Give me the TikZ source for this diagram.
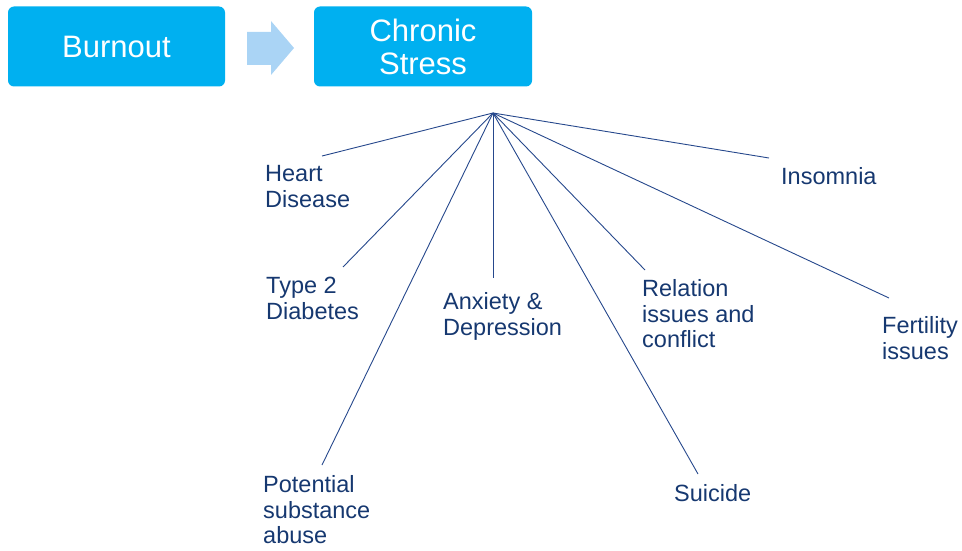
\documentclass[tikz,border=0pt]{standalone}
\usepackage{fontspec}
\setmainfont{Liberation Sans}
\definecolor{boxcyan}{RGB}{0,176,240}
\definecolor{arrowblue}{RGB}{170,212,245}
\definecolor{txtblue}{RGB}{22,56,112}
\definecolor{lineblue}{RGB}{38,72,140}
\begin{document}
\begin{tikzpicture}[x=1pt,y=-1pt,
  box/.style={fill=boxcyan,draw=none,rounded corners=6pt,text=white,
    font=\fontsize{31}{33}\selectfont,align=center,minimum height=80pt,inner sep=0pt},
  lbl/.style={anchor=north west,inner sep=0pt,align=left,text=txtblue,
    font=\fontsize{23.5}{25.8}\selectfont},
  conn/.style={draw=lineblue,line width=0.9pt}]
\useasboundingbox (0,0) rectangle (962,551);
\node[box,minimum width=217pt] (burnout) at (116.5,46.5) {Burnout};
\node[box,minimum width=218pt] (chronic) at (423,46.5) {Chronic\\Stress};
\fill[arrowblue] (247,32) -- (271,32) -- (271,21) -- (294,48) -- (271,75) -- (271,65) -- (247,65) -- cycle;
\coordinate (hub) at (493,113);
\node[lbl] (heart) at (265,165) {Heart\\Disease};
\node[lbl] (type2) at (266,277) {Type 2\\Diabetes};
\node[lbl] (anx) at (443,292) {Anxiety \&\\Depression};
\node[lbl] (rel) at (642,279) {Relation\\issues and\\conflict};
\node[lbl] (fert) at (882,316) {Fertility\\issues};
\node[lbl] (insom) at (781,167) {Insomnia};
\node[lbl] (pot) at (263,475) {Potential\\substance\\abuse};
\node[lbl] (sui) at (674,484) {Suicide};
\coordinate (eheart) at (322,156);
\coordinate (etype) at (343,267);
\coordinate (epot) at (322,465);
\coordinate (eanx) at (493,278);
\coordinate (erel) at (645,270);
\coordinate (esui) at (698,474);
\coordinate (efert) at (889,298);
\coordinate (einsom) at (769,158);
\foreach \e in {eheart,etype,epot,eanx,erel,esui,efert,einsom}
  \draw[conn] (hub) -- (\e);
\end{tikzpicture}
\end{document}
